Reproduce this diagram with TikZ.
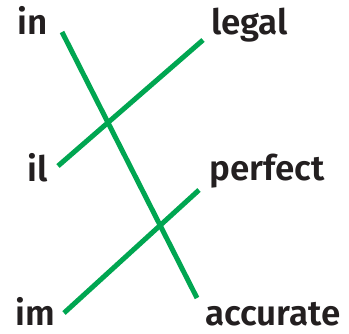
\documentclass[tikz,border=0pt]{standalone}
\usepackage{fontspec}
\setmainfont{Fira Sans SemiBold}
\usepackage{xcolor}
\usetikzlibrary{positioning}
\definecolor{matchgreen}{RGB}{0,166,81}
\definecolor{wordgray}{RGB}{35,31,32}
\tikzset{
  wordnode/.style={inner sep=0pt,anchor=base west,text=wordgray,
    font=\fontsize{35}{37}\selectfont},
  matchline/.style={draw=matchgreen,line width=5pt}
}
\begin{document}
\begin{tikzpicture}[x=1pt,y=-1pt]
  \useasboundingbox (0,0) rectangle (349,333);
  % prefixes
  \node[wordnode] (in) at (17,34) {in};
  \node[wordnode] (il) at (27,181) {il};
  \node[wordnode] (im) at (15,325) {im};
  % words
  \node[wordnode] (legal) at (211,34) {legal};
  \node[wordnode] (perfect) at (209,180) {perfect};
  \node[wordnode] (accurate) at (205,325) {accurate};
  % line ends
  \coordinate (in-end) at (62,32);
  \coordinate (il-end) at (58,166);
  \coordinate (im-end) at (64,313);
  \coordinate (legal-end) at (203,40);
  \coordinate (perfect-end) at (199,190);
  \coordinate (accurate-end) at (197,298);
  \draw[matchline] (in-end) -- (accurate-end);
  \draw[matchline] (il-end) -- (legal-end);
  \draw[matchline] (im-end) -- (perfect-end);
\end{tikzpicture}
\end{document}
